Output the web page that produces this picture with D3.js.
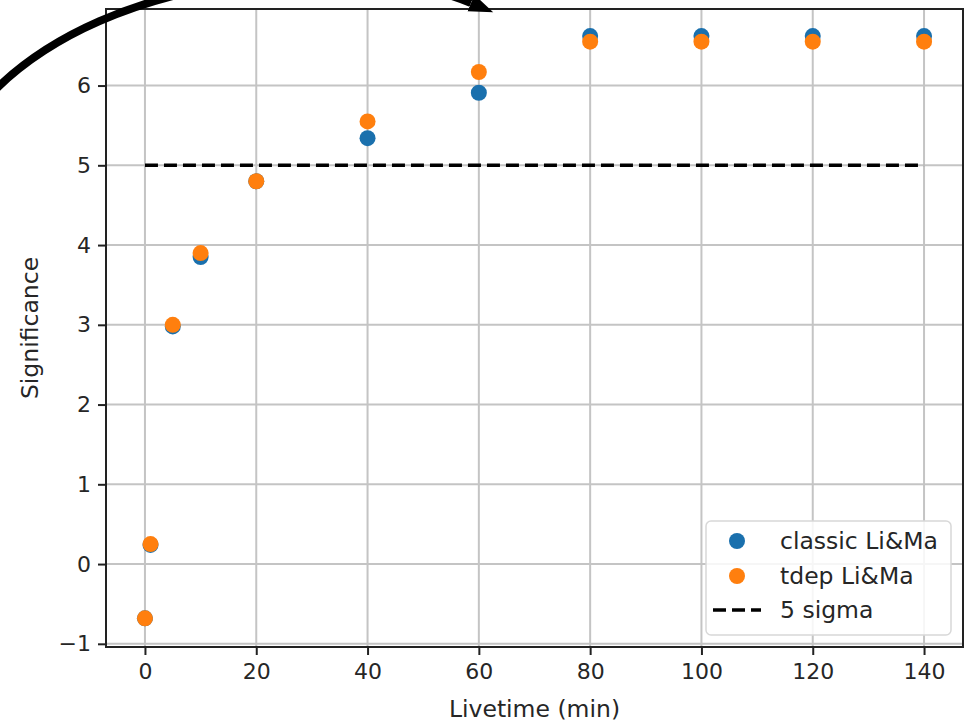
<!DOCTYPE html>
<html>
<head>
<meta charset="utf-8">
<script src="https://cdn.jsdelivr.net/npm/d3@7"></script>
<style>
	body { margin: 0; background: #fff; }
	text { font-family: "DejaVu Sans", sans-serif; fill: #262626; }
</style>
</head>
<body>
<div id="chart"></div>
<script>
// data
const livetime = [0, 1, 5, 10, 20, 40, 60, 80, 100, 120, 140];
const classicSig = [-0.68, 0.24, 2.98, 3.85, 4.8, 5.34, 5.91, 6.62, 6.62, 6.62, 6.62];
const tdepSig = [-0.68, 0.25, 3.0, 3.9, 4.8, 5.55, 6.17, 6.55, 6.55, 6.55, 6.55];
const xTicks = [0, 20, 40, 60, 80, 100, 120, 140];
const yTicks = [-1, 0, 1, 2, 3, 4, 5, 6];
const sigmaLevel = 5;
const legendLabels = ["classic Li&Ma", "tdep Li&Ma", "5 sigma"];

const W = 968, H = 723;
const margin = { top: 9, right: 5, bottom: 76, left: 106 };
const width = W - margin.left - margin.right;
const height = H - margin.top - margin.bottom;

const blue = "#1a70ad", orange = "#ff7f0e";

const svg = d3.select("#chart").append("svg")
	.attr("width", W)
	.attr("height", H);

const g = svg.append("g")
	.attr("transform", "translate(" + margin.left + "," + margin.top + ")");

const x = d3.scaleLinear().domain([-7, 147]).range([0, width]);
const y = d3.scaleLinear().domain([-1.04, 6.96]).range([height, 0]);

// grid
g.append("g").selectAll("line").data(xTicks).join("line")
	.attr("x1", d => x(d)).attr("x2", d => x(d))
	.attr("y1", 0).attr("y2", height)
	.attr("stroke", "#c4c4c4").attr("stroke-width", 2);
g.append("g").selectAll("line").data(yTicks).join("line")
	.attr("y1", d => y(d)).attr("y2", d => y(d))
	.attr("x1", 0).attr("x2", width)
	.attr("stroke", "#c4c4c4").attr("stroke-width", 2);

// 5 sigma line
g.append("line")
	.attr("x1", x(livetime[0])).attr("x2", x(livetime[livetime.length - 1]))
	.attr("y1", y(sigmaLevel)).attr("y2", y(sigmaLevel))
	.attr("stroke", "#000").attr("stroke-width", 3.5)
	.attr("stroke-dasharray", "13,6");

// scatter points
const classic = livetime.map((t, i) => ({ t: t, s: classicSig[i] }));
const tdep = livetime.map((t, i) => ({ t: t, s: tdepSig[i] }));

g.append("g").selectAll("circle").data(classic).join("circle")
	.attr("cx", d => x(d.t)).attr("cy", d => y(d.s)).attr("r", 8)
	.attr("fill", blue);
g.append("g").selectAll("circle").data(tdep).join("circle")
	.attr("cx", d => x(d.t)).attr("cy", d => y(d.s)).attr("r", 8)
	.attr("fill", orange);

// axes
const xAxis = g.append("g")
	.attr("transform", "translate(0," + height + ")")
	.call(d3.axisBottom(x).tickValues(xTicks).tickSize(8).tickPadding(8));
const yAxis = g.append("g")
	.call(d3.axisLeft(y).tickValues(yTicks).tickSize(8).tickPadding(7)
		.tickFormat(d => d < 0 ? "\u2212" + Math.abs(d) : d));
[xAxis, yAxis].forEach(a => {
	a.select(".domain").remove();
	a.selectAll("line").attr("stroke", "#222").attr("stroke-width", 2);
	a.selectAll("text").style("font-size", "22px").attr("fill", "#262626");
});

// frame
g.append("rect")
	.attr("width", width).attr("height", height)
	.attr("fill", "none").attr("stroke", "#222").attr("stroke-width", 2);

// axis titles
g.append("text")
	.attr("x", width / 2).attr("y", height + 70)
	.attr("text-anchor", "middle")
	.style("font-size", "23.5px")
	.text("Livetime (min)");
g.append("text")
	.attr("transform", "translate(" + (30 - margin.left) + "," + (height / 2) + ") rotate(-90)")
	.attr("text-anchor", "middle")
	.attr("dy", "0.35em")
	.style("font-size", "23.5px")
	.text("Significance");

// legend
const legend = svg.append("g").attr("transform", "translate(706,521)");
legend.append("rect")
	.attr("width", 245).attr("height", 114).attr("rx", 5)
	.attr("fill", "#fff").attr("fill-opacity", 0.85)
	.attr("stroke", "#d8d8d8").attr("stroke-width", 1.5);
const rowY = [20, 55, 89];
legend.append("circle").attr("cx", 31).attr("cy", rowY[0]).attr("r", 8).attr("fill", blue);
legend.append("circle").attr("cx", 31).attr("cy", rowY[1]).attr("r", 8).attr("fill", orange);
legend.append("line")
	.attr("x1", 7).attr("x2", 55).attr("y1", rowY[2]).attr("y2", rowY[2])
	.attr("stroke", "#000").attr("stroke-width", 3.5).attr("stroke-dasharray", "13,6");
legend.selectAll("text.lab").data(legendLabels).join("text")
	.attr("class", "lab")
	.attr("x", 74).attr("y", (d, i) => rowY[i])
	.attr("dy", "0.35em")
	.style("font-size", "23.5px")
	.text(d => d);

// hand-drawn arrow over the figure
const defs = svg.append("defs");
defs.append("marker")
	.attr("id", "head")
	.attr("markerUnits", "userSpaceOnUse")
	.attr("markerWidth", 30).attr("markerHeight", 30)
	.attr("viewBox", "0 -15 30 30")
	.attr("refX", 0).attr("refY", 0)
	.attr("orient", "auto")
	.append("path")
	.attr("d", "M0,-9 L24,0 L0,9 Z")
	.attr("fill", "#000");

svg.append("path")
	.attr("d", "M-10,95 C110,-30 355,-45 471,3")
	.attr("fill", "none")
	.attr("stroke", "#000")
	.attr("stroke-width", 8)
	.attr("marker-end", "url(#head)");
</script>
</body>
</html>
